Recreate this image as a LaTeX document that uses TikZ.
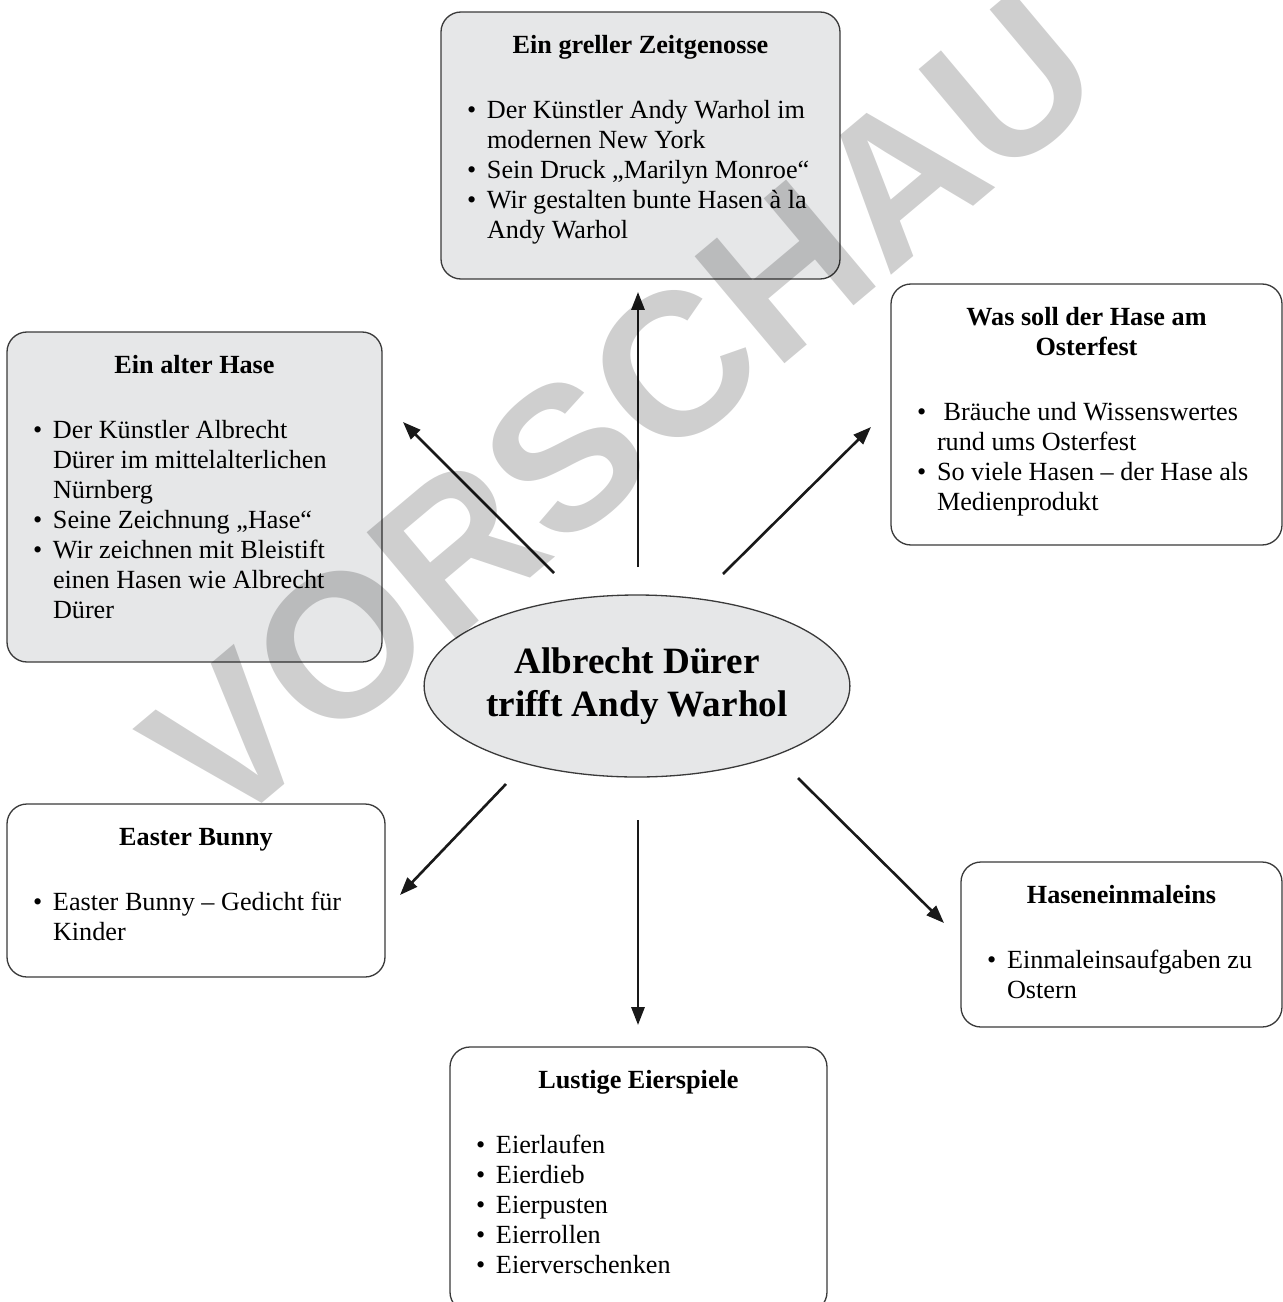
\documentclass[tikz,border=0pt]{standalone}
\usepackage{fontspec}
\setmainfont{Liberation Serif}
\newfontfamily\stampfont{Liberation Sans}
\usepackage{xcolor}
\usepackage{tikz}
\usetikzlibrary{arrows.meta,shapes.geometric}

\newlength{\px}
\setlength{\px}{0.458pt}

\definecolor{boxfill}{HTML}{E6E7E8}
\definecolor{stampgray}{HTML}{CFCFCF}
\definecolor{edge}{HTML}{3A3A3A}

\newcommand{\boxhead}[1]{{\centering\bfseries #1\par}\vspace{35\px}}
\newcommand{\bpt}[1]{\par\noindent\hangindent=26\px\hangafter=1\hspace*{6\px}\makebox[20\px][l]{\textbullet}#1\par}

\begin{document}
\begin{tikzpicture}[
    x=\px,
    y=-\px,
    box/.style={
        draw=edge,
        line width=0.6pt,
        rounded corners=20\px,
        align=flush left,
        anchor=north west,
        outer sep=0pt,
        inner xsep=20\px,
        inner ysep=21\px,
        text height=20\px,
        font=\fontsize{12}{13.8}\selectfont
    },
    hub/.style={
        ellipse,
        draw=edge,
        line width=0.6pt,
        fill=boxfill,
        minimum width=422\px,
        minimum height=182\px,
        inner sep=0pt,
        align=center,
        font=\fontsize{17}{19.7}\selectfont\bfseries
    },
    arrow/.style={
        -{Triangle[length=8.2pt,width=6pt]},
        line width=1.2pt,
        black!90
    },
    stamp/.style={
        text=stampgray,
        font=\stampfont\bfseries\fontsize{93}{93}\selectfont
    }
]

\useasboundingbox (0,0) rectangle (1283,1302);

% ==================================================
% Centre
% ==================================================

\node[hub] (hub) at (637,686)
{Albrecht Dürer\\trifft Andy Warhol};

% ==================================================
% Boxes round the centre
% ==================================================

\node[
    box,
    fill=boxfill,
    text width=359\px,
    text depth=205\px
] (zeit) at (441,12)
{
    \boxhead{Ein greller Zeitgenosse}
    \bpt{Der Künstler Andy Warhol im\newline modernen New York}
    \bpt{Sein Druck „Marilyn Monroe“}
    \bpt{Wir gestalten bunte Hasen à la\newline Andy Warhol}
};


\node[
    box,
    fill=boxfill,
    text width=335\px,
    text depth=268\px
] (alt) at (7,332)
{
    \boxhead{Ein alter Hase}
    \bpt{Der Künstler Albrecht\newline Dürer im mittelalterlichen\newline Nürnberg}
    \bpt{Seine Zeichnung „Hase“}
    \bpt{Wir zeichnen mit Bleistift\newline einen Hasen wie Albrecht\newline Dürer}
};


\node[
    box,
    fill=white,
    text width=351\px,
    text depth=199\px
] (oster) at (891,284)
{
    \boxhead{Was soll der Hase am\\Osterfest}
    \bpt{\ Bräuche und Wissenswertes\newline rund ums Osterfest}
    \bpt{So viele Hasen – der Hase als\newline Medienprodukt}
};


\node[
    box,
    fill=white,
    text width=338\px,
    text depth=111\px
] (bunny) at (7,804)
{
    \boxhead{Easter Bunny}
    \bpt{Easter Bunny – Gedicht für\newline Kinder}
};


\node[
    box,
    fill=white,
    text width=281\px,
    text depth=103\px
] (einmal) at (961,862)
{
    \boxhead{Haseneinmaleins}
    \bpt{Einmaleinsaufgaben zu\newline Ostern}
};


\node[
    box,
    fill=white,
    text width=337\px,
    text depth=203\px
] (eier) at (450,1047)
{
    \boxhead{Lustige Eierspiele}
    \bpt{Eierlaufen}
    \bpt{Eierdieb}
    \bpt{Eierpusten}
    \bpt{Eierrollen}
    \bpt{Eierverschenken}
};

% ==================================================
% Arrow ends
% ==================================================

\coordinate (zeit-from) at (638,567);
\coordinate (zeit-to) at (638,292);
\coordinate (alt-from) at (554,573);
\coordinate (alt-to) at (403,422);
\coordinate (oster-from) at (723,574);
\coordinate (oster-to) at (871,427);
\coordinate (bunny-from) at (506,784);
\coordinate (bunny-to) at (400,895);
\coordinate (eier-from) at (638,820);
\coordinate (eier-to) at (638,1025);
\coordinate (einmal-from) at (798,778);
\coordinate (einmal-to) at (944,923);

% ==================================================
% Arrows
% ==================================================

\draw[arrow] (zeit-from) -- (zeit-to);
\draw[arrow] (alt-from) -- (alt-to);
\draw[arrow] (oster-from) -- (oster-to);
\draw[arrow] (bunny-from) -- (bunny-to);
\draw[arrow] (eier-from) -- (eier-to);
\draw[arrow] (einmal-from) -- (einmal-to);

% ==================================================
% Preview stamp
% ==================================================

\begin{scope}[blend mode=multiply]
\node[stamp, rotate=40] (stamp) at (622,410) {VORSCHAU};
\end{scope}

\end{tikzpicture}
\end{document}
